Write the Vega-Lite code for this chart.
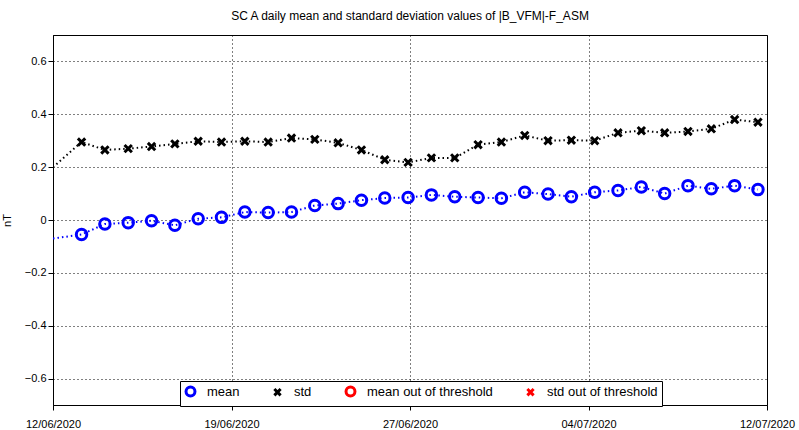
{
  "$schema": "https://vega.github.io/schema/vega-lite/v6.json",
  "autosize": "none",
  "width": 714,
  "height": 370,
  "padding": {"left": 53, "top": 35, "right": 32, "bottom": 25},
  "background": "white",
  "title": {"text": "SC A daily mean and standard deviation values of |B_VFM|-F_ASM", "font": "Liberation Sans", "fontSize": 12, "fontWeight": "normal", "color": "black", "offset": 12},
  "config": {
    "view": {"stroke": "black", "strokeWidth": 1},
    "axis": {"labelFont": "Liberation Sans", "labelFontSize": 11, "labelColor": "black", "titleFont": "Liberation Sans", "titleFontWeight": "normal", "titleFontSize": 11, "titleColor": "black", "gridColor": "black", "gridDash": [1, 3], "gridOpacity": 1, "domainColor": "black", "tickColor": "black", "tickSize": 5}
  },
  "data": {"values": [
    {"day": 0.0, "mean": -0.07, "std": 0.2, "mark": false},
    {"day": 1.2, "mean": -0.055, "std": 0.295, "mark": true},
    {"day": 2.18, "mean": -0.015, "std": 0.265, "mark": true},
    {"day": 3.16, "mean": -0.01, "std": 0.27, "mark": true},
    {"day": 4.14, "mean": -0.003, "std": 0.278, "mark": true},
    {"day": 5.12, "mean": -0.02, "std": 0.288, "mark": true},
    {"day": 6.1, "mean": 0.005, "std": 0.298, "mark": true},
    {"day": 7.08, "mean": 0.01, "std": 0.295, "mark": true},
    {"day": 8.06, "mean": 0.03, "std": 0.298, "mark": true},
    {"day": 9.04, "mean": 0.028, "std": 0.295, "mark": true},
    {"day": 10.02, "mean": 0.03, "std": 0.31, "mark": true},
    {"day": 11.0, "mean": 0.055, "std": 0.305, "mark": true},
    {"day": 11.98, "mean": 0.062, "std": 0.292, "mark": true},
    {"day": 12.96, "mean": 0.075, "std": 0.265, "mark": true},
    {"day": 13.94, "mean": 0.083, "std": 0.228, "mark": true},
    {"day": 14.92, "mean": 0.085, "std": 0.218, "mark": true},
    {"day": 15.9, "mean": 0.095, "std": 0.235, "mark": true},
    {"day": 16.88, "mean": 0.088, "std": 0.235, "mark": true},
    {"day": 17.86, "mean": 0.085, "std": 0.285, "mark": true},
    {"day": 18.84, "mean": 0.082, "std": 0.295, "mark": true},
    {"day": 19.82, "mean": 0.105, "std": 0.32, "mark": true},
    {"day": 20.8, "mean": 0.098, "std": 0.3, "mark": true},
    {"day": 21.78, "mean": 0.088, "std": 0.302, "mark": true},
    {"day": 22.76, "mean": 0.105, "std": 0.3, "mark": true},
    {"day": 23.74, "mean": 0.112, "std": 0.33, "mark": true},
    {"day": 24.72, "mean": 0.125, "std": 0.338, "mark": true},
    {"day": 25.7, "mean": 0.1, "std": 0.33, "mark": true},
    {"day": 26.68, "mean": 0.13, "std": 0.335, "mark": true},
    {"day": 27.66, "mean": 0.118, "std": 0.345, "mark": true},
    {"day": 28.64, "mean": 0.13, "std": 0.38, "mark": true},
    {"day": 29.62, "mean": 0.115, "std": 0.37, "mark": true}
  ]},
  "transform": [{"fold": ["mean", "std"], "as": ["series", "value"]}],
  "encoding": {
    "x": {"field": "day", "type": "quantitative", "scale": {"domain": [0, 30], "nice": false},
      "axis": {"title": null, "values": [0, 7.5, 15, 22.5, 30], "grid": true, "labelPadding": 8, "labelFlush": false,
        "labelExpr": "datum.value == 0 ? '12/06/2020' : datum.value == 7.5 ? '19/06/2020' : datum.value == 15 ? '27/06/2020' : datum.value == 22.5 ? '04/07/2020' : '12/07/2020'"}},
    "y": {"field": "value", "type": "quantitative", "scale": {"domain": [-0.7, 0.7], "nice": false},
      "axis": {"title": "nT", "values": [-0.6, -0.4, -0.2, 0, 0.2, 0.4, 0.6], "grid": true, "labelExpr": "datum.value == 0 ? '0' : format(datum.value, '.1f')", "titlePadding": 12}}
  },
  "layer": [
    {
      "mark": {"type": "line", "strokeDash": [1.5, 3], "strokeWidth": 2, "clip": true},
      "encoding": {
        "detail": {"field": "series"},
        "color": {"field": "series", "type": "nominal", "scale": {"domain": ["mean", "std", "mean out of threshold", "std out of threshold"], "range": ["#0000ff", "black", "red", "red"]}}
      }
    },
    {
      "transform": [{"filter": "datum.mark"}],
      "mark": {"type": "point", "filled": false, "strokeWidth": 3, "size": 110, "opacity": 1, "clip": true},
      "encoding": {
        "color": {"field": "series", "type": "nominal",
          "scale": {"domain": ["mean", "std", "mean out of threshold", "std out of threshold"], "range": ["#0000ff", "black", "red", "red"]},
          "legend": {"title": null, "orient": "none", "legendX": 127, "legendY": 346, "direction": "horizontal", "fillColor": "white", "strokeColor": "black", "padding": 4, "labelFont": "Liberation Sans", "labelFontSize": 13, "labelColor": "black", "labelOffset": 10, "symbolStrokeWidth": 3, "symbolSize": 80, "symbolOpacity": 1, "columnPadding": 28}},
        "shape": {"field": "series", "type": "nominal",
          "scale": {"domain": ["mean", "std", "mean out of threshold", "std out of threshold"], "range": ["circle", "M-0.7,-0.7L0.7,0.7M-0.7,0.7L0.7,-0.7", "circle", "M-0.7,-0.7L0.7,0.7M-0.7,0.7L0.7,-0.7"]}}
      }
    }
  ]
}
